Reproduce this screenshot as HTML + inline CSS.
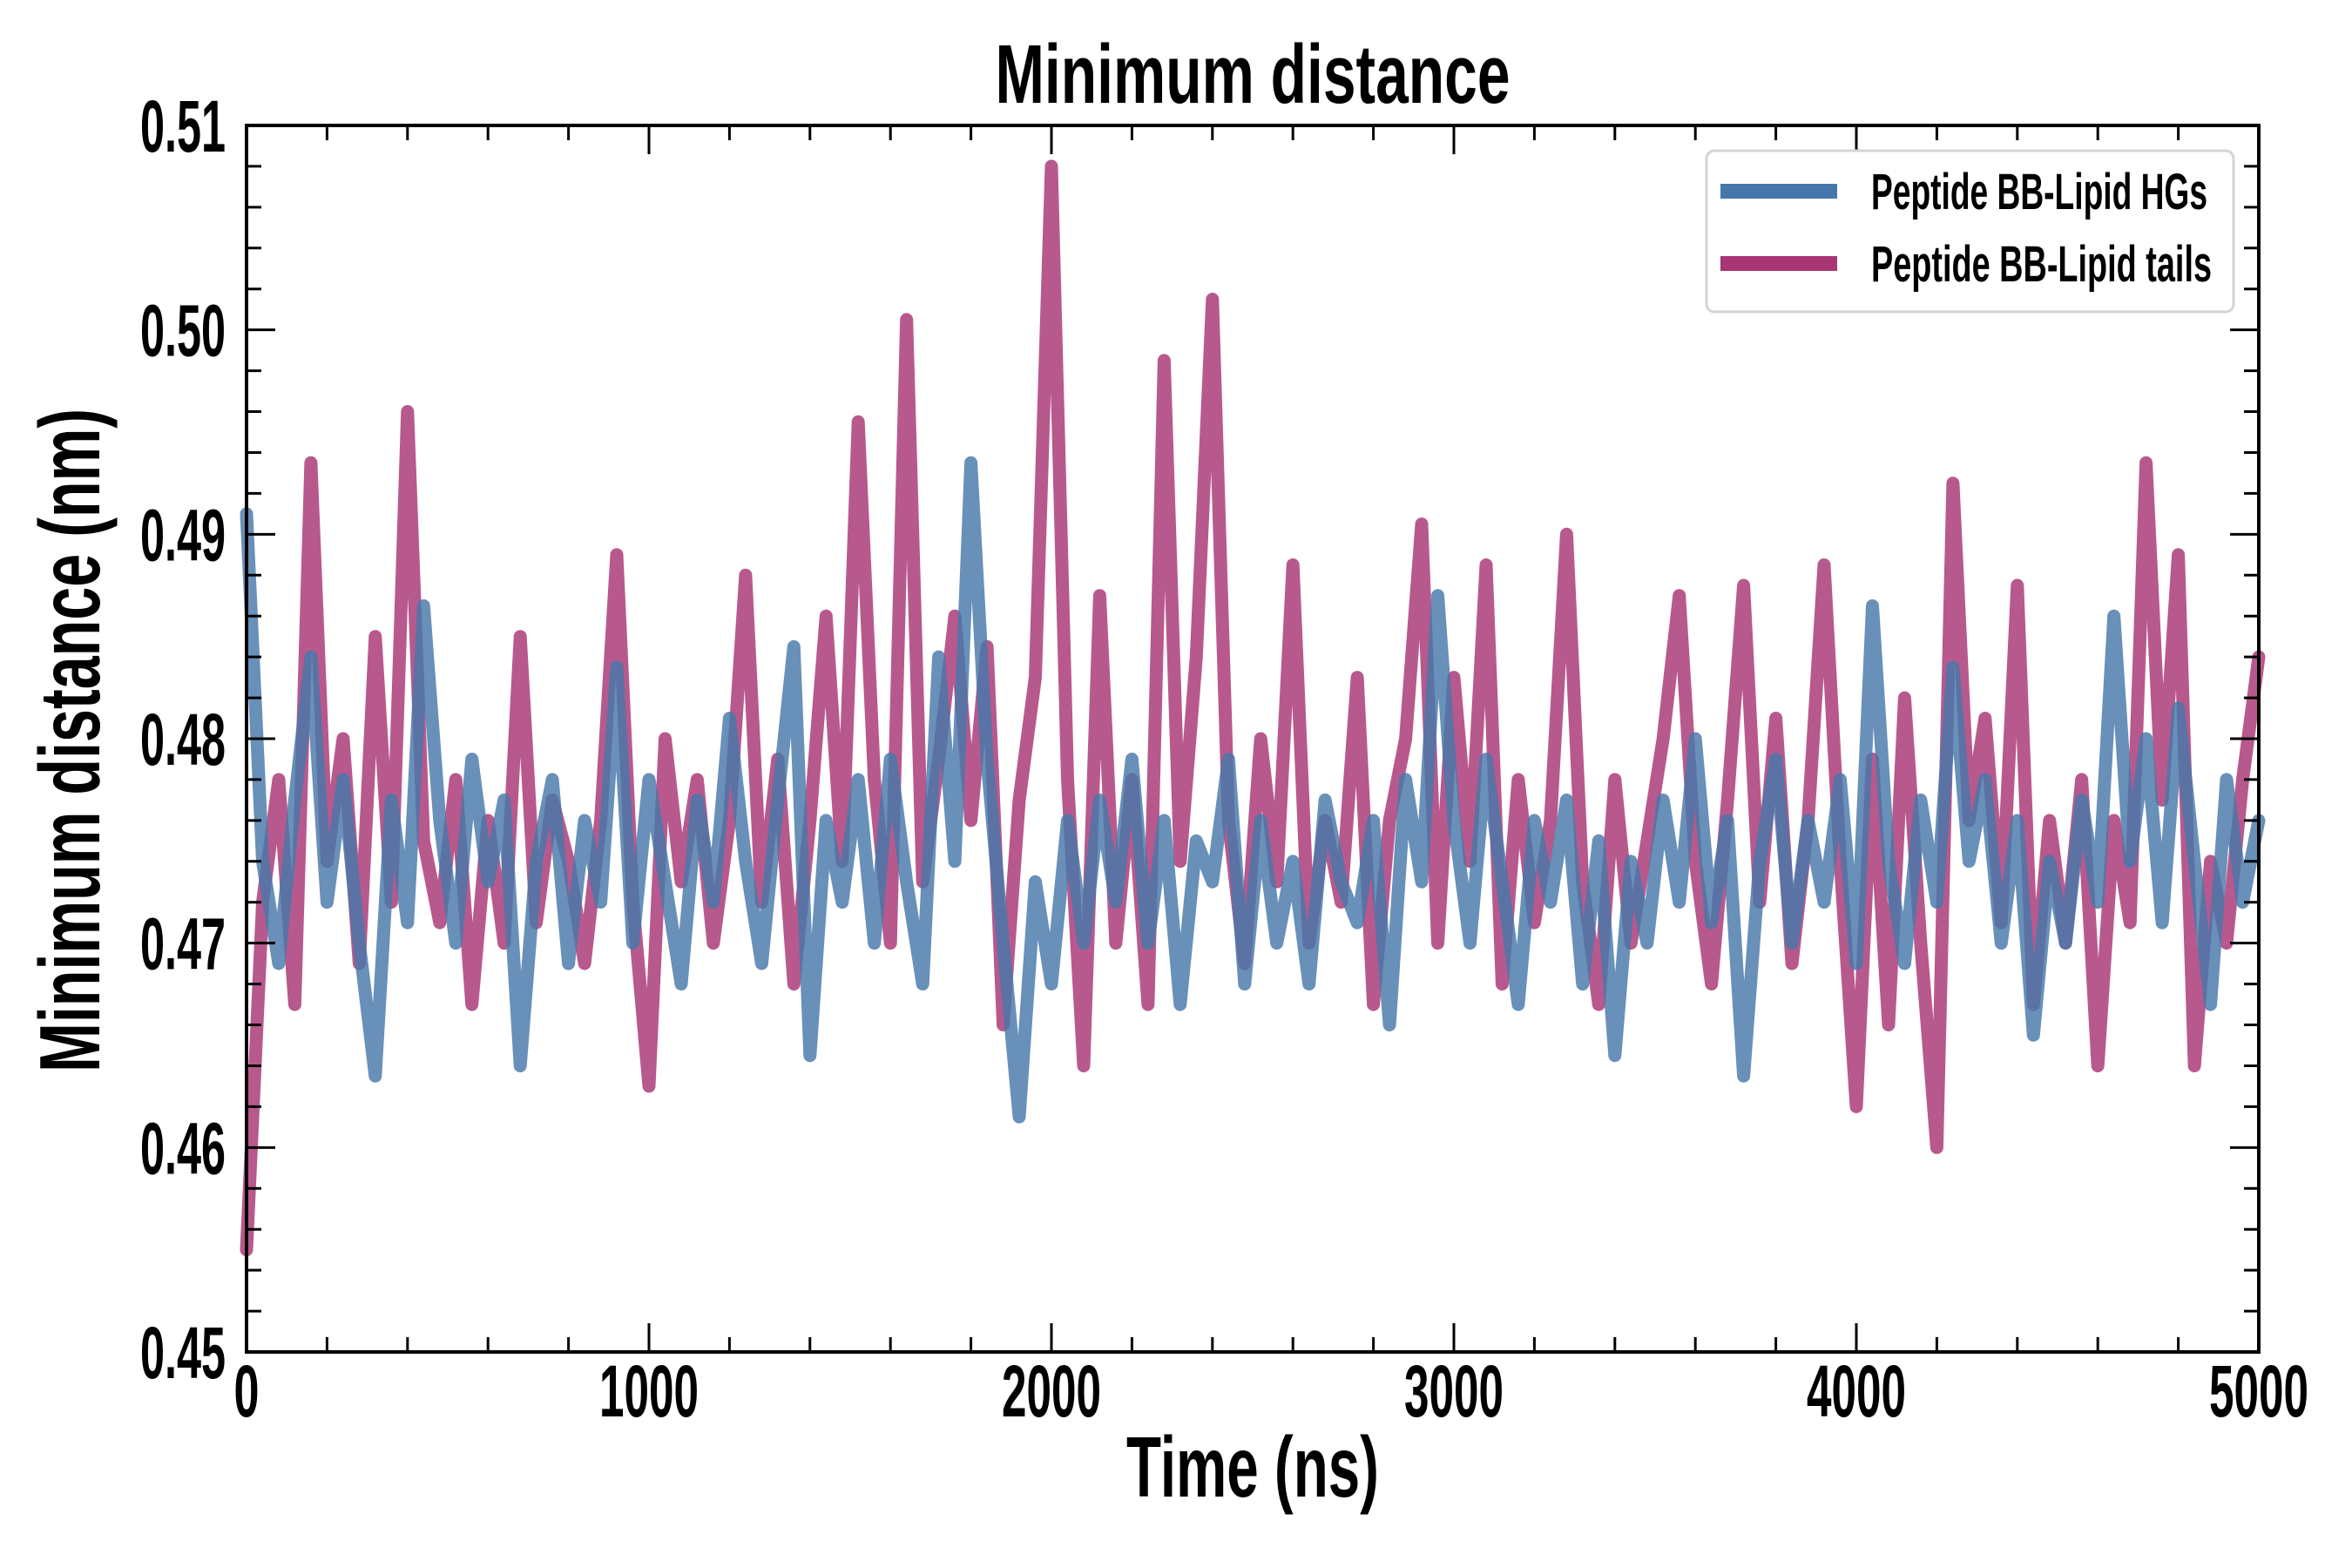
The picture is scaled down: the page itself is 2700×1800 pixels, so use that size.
<!DOCTYPE html>
<html><head><meta charset="utf-8"><style>
html,body{margin:0;padding:0;background:#fff;}
svg{display:block;}
text{font-family:"Liberation Sans Narrow","Liberation Sans",sans-serif;font-weight:bold;fill:#000;}
</style></head><body>
<svg id="chart" width="2700" height="1800" viewBox="0 0 2700 1800" xmlns="http://www.w3.org/2000/svg">
<g id="series"></g>
<g id="axes"></g>
<text x="1438" y="118" font-size="96" text-anchor="middle" textLength="591" lengthAdjust="spacingAndGlyphs">Minimum distance</text>
<text x="1438" y="1718" font-size="98" text-anchor="middle" textLength="290" lengthAdjust="spacingAndGlyphs">Time (ns)</text>
<text x="0" y="0" font-size="98" text-anchor="middle" textLength="762" lengthAdjust="spacingAndGlyphs" transform="translate(114,850) rotate(-90)">Minimum distance (nm)</text>
<g>
<rect x="1959" y="173" width="605" height="185" rx="9" fill="#fff" stroke="#d4d4d4" stroke-width="3"/>
<rect x="1975" y="211" width="134" height="17" fill="#4777aa"/>
<text x="2148" y="240" font-size="58" textLength="386" lengthAdjust="spacingAndGlyphs">Peptide BB-Lipid HGs</text>
<rect x="1975" y="294" width="134" height="17" fill="#a83574"/>
<text x="2148" y="323" font-size="58" textLength="391" lengthAdjust="spacingAndGlyphs">Peptide BB-Lipid tails</text>
</g>
</svg>
<script>
const timeStep = 40;
const tailsValues = [0.455,0.472,0.478,0.467,0.4935,0.474,0.480,0.469,0.485,0.472,0.496,0.475,0.471,0.478,0.467,0.476,0.470,0.485,0.471,0.477,0.474,0.469,0.476,0.489,0.472,0.463,0.480,0.473,0.478,0.470,0.476,0.488,0.472,0.479,0.468,0.476,0.486,0.474,0.4955,0.478,0.470,0.5005,0.473,0.479,0.486,0.476,0.4845,0.466,0.477,0.483,0.508,0.478,0.464,0.487,0.470,0.478,0.467,0.4985,0.474,0.484,0.5015,0.476,0.469,0.480,0.473,0.4885,0.470,0.476,0.472,0.483,0.467,0.476,0.480,0.4905,0.470,0.483,0.474,0.4885,0.468,0.478,0.471,0.476,0.490,0.473,0.467,0.478,0.470,0.475,0.480,0.487,0.474,0.468,0.477,0.4875,0.472,0.481,0.469,0.476,0.4885,0.474,0.462,0.479,0.466,0.482,0.470,0.460,0.4925,0.476,0.481,0.471,0.4875,0.467,0.476,0.470,0.478,0.464,0.476,0.471,0.4935,0.477,0.489,0.464,0.474,0.470,0.478,0.484];
const hgsValues = [0.491,0.474,0.469,0.477,0.484,0.472,0.478,0.470,0.4635,0.477,0.471,0.4865,0.476,0.470,0.479,0.473,0.477,0.464,0.474,0.478,0.469,0.476,0.472,0.4835,0.470,0.478,0.473,0.468,0.477,0.472,0.481,0.474,0.469,0.477,0.4845,0.4645,0.476,0.472,0.478,0.470,0.479,0.473,0.468,0.484,0.474,0.4935,0.479,0.470,0.4615,0.473,0.468,0.476,0.470,0.477,0.472,0.479,0.470,0.476,0.467,0.475,0.473,0.479,0.468,0.476,0.470,0.474,0.468,0.477,0.473,0.471,0.476,0.466,0.478,0.473,0.487,0.476,0.470,0.479,0.473,0.467,0.476,0.472,0.477,0.468,0.475,0.4645,0.474,0.470,0.477,0.472,0.480,0.471,0.476,0.4635,0.474,0.479,0.470,0.476,0.472,0.478,0.469,0.4865,0.474,0.469,0.477,0.472,0.4835,0.474,0.478,0.470,0.476,0.4655,0.474,0.470,0.477,0.472,0.486,0.474,0.480,0.471,0.4815,0.474,0.467,0.478,0.472,0.476];
const xTickValues = [0,1000,2000,3000,4000,5000];
const xTickLabels = ["0","1000","2000","3000","4000","5000"];
const yTickValues = [0.45,0.46,0.47,0.48,0.49,0.50,0.51];
const yTickLabels = ["0.45","0.46","0.47","0.48","0.49","0.50","0.51"];

const L=283,R=2593,T=144,B=1552, X0=0,X1=5000,Y0=0.45,Y1=0.51;
const xs = v => L + (v-X0)/(X1-X0)*(R-L);
const ys = v => B - (v-Y0)/(Y1-Y0)*(B-T);
const NS="http://www.w3.org/2000/svg";
function mk(tag, attrs){const e=document.createElementNS(NS,tag);for(const k in attrs)e.setAttribute(k,attrs[k]);return e;}

const series=document.getElementById('series');
function drawLine(vals,color,name){
  const d=vals.map((v,i)=>(i?'L':'M')+xs(i*timeStep).toFixed(1)+','+ys(v).toFixed(1)).join('');
  const p=mk('path',{d:d,fill:'none',stroke:color,'stroke-width':15,'stroke-linejoin':'round','stroke-linecap':'round','stroke-opacity':0.82});
  
  
  series.appendChild(p);
}
drawLine(tailsValues,'#a83574','line-lipid-tails');
drawLine(hgsValues,'#4777aa','line-lipid-hgs');

const axes=document.getElementById('axes');
const frame=mk('rect',{x:L,y:T,width:R-L,height:B-T,fill:'none',stroke:'#000','stroke-width':4});


axes.appendChild(frame);
function tick(x1,y1,x2,y2,name){const l=mk('line',{x1:x1,y1:y1,x2:x2,y2:y2,stroke:'#000','stroke-width':3});
  
  
  axes.appendChild(l);}
for(let v=0; v<=5000; v+=200){const x=xs(v);const major=v%1000===0;const len=major?33:17;
  tick(x,B,x,B-len,'x-tick');tick(x,T,x,T+len,'x-tick-top');}
for(let k=0;k<=30;k++){const v=0.45+k*0.002;const y=ys(v);const major=k%5===0;const len=major?33:17;
  tick(L,y,L+len,y,'y-tick');tick(R,y,R-len,y,'y-tick-right');}
xTickValues.forEach((v,i)=>{
  const t=mk('text',{x:xs(v),y:1626,'font-size':84,'text-anchor':'middle',textLength:xTickLabels[i].length>1?114:29,lengthAdjust:'spacingAndGlyphs'});
  t.textContent=xTickLabels[i];
  
  
  axes.appendChild(t);
});
yTickValues.forEach((v,i)=>{
  const t=mk('text',{x:259,y:ys(v)+30,'font-size':84,'text-anchor':'end',textLength:98,lengthAdjust:'spacingAndGlyphs'});
  t.textContent=yTickLabels[i];
  
  
  axes.appendChild(t);
});
</script>
</body></html>
